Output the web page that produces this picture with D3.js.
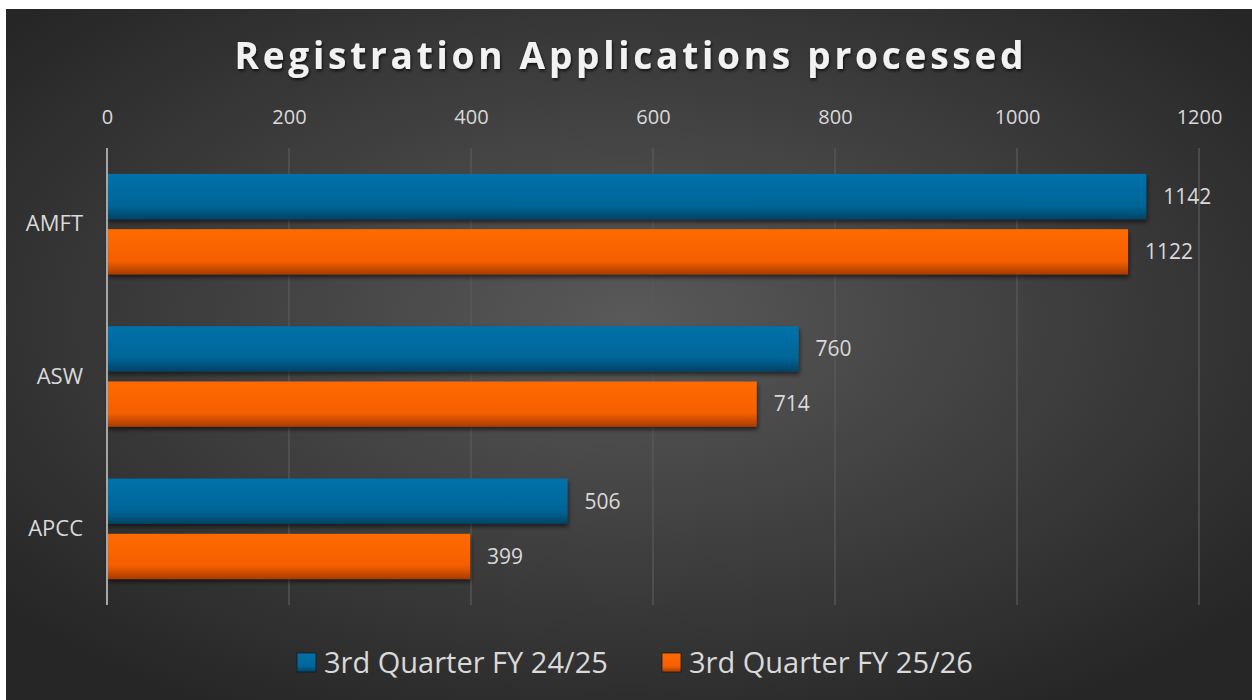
<!DOCTYPE html>
<html>
<head>
<meta charset="utf-8">
<script src="https://cdn.jsdelivr.net/npm/d3@7"></script>
<style>
  html, body { margin: 0; padding: 0; background: #fff; }
  svg { display: block; }
</style>
</head>
<body>
<svg width="1252" height="700"></svg>
<script>
// chart data
const categories = ['AMFT', 'ASW', 'APCC'];
const seriesNames = ['3rd Quarter FY 24/25', '3rd Quarter FY 25/26'];
const fy2425 = [1142, 760, 506];
const fy2526 = [1122, 714, 399];
const xTicks = [0, 200, 400, 600, 800, 1000, 1200];

const svg = d3.select('svg'),
  width = 1252,
  height = 700;

const font = '"Open Sans", Roboto, sans-serif';
const textColor = '#d9d9d9';

const defs = svg.append('defs');

// background radial gradient
const bg = defs.append('radialGradient').attr('id', 'bg')
  .attr('cx', '50%').attr('cy', '45%').attr('r', '65%');
bg.append('stop').attr('offset', '0%').attr('stop-color', '#595959');
bg.append('stop').attr('offset', '100%').attr('stop-color', '#262626');

// bar gradients (bevel-ish look)
function barGrad(id, top, mid, bot) {
  const g = defs.append('linearGradient').attr('id', id)
    .attr('x1', 0).attr('y1', 0).attr('x2', 0).attr('y2', 1);
  g.append('stop').attr('offset', '0%').attr('stop-color', top);
  g.append('stop').attr('offset', '70%').attr('stop-color', mid);
  g.append('stop').attr('offset', '100%').attr('stop-color', bot);
}
barGrad('gBlue', '#0072aa', '#006598', '#004466');
barGrad('gOrange', '#ff6a00', '#f55f00', '#a83c00');

const shadow = defs.append('filter').attr('id', 'shadow')
  .attr('x', '-5%').attr('y', '-20%').attr('width', '110%').attr('height', '160%');
shadow.append('feDropShadow').attr('dx', 1).attr('dy', 3).attr('stdDeviation', 2)
  .attr('flood-color', '#000').attr('flood-opacity', 0.55);

const tshadow = defs.append('filter').attr('id', 'tshadow');
tshadow.append('feDropShadow').attr('dx', 1).attr('dy', 2).attr('stdDeviation', 1.5)
  .attr('flood-color', '#000').attr('flood-opacity', 0.7);

svg.append('rect').attr('x', 6).attr('y', 9)
  .attr('width', width - 6).attr('height', height - 9)
  .attr('fill', 'url(#bg)');

// title - spread letters to span the same width as the original
const titleText = 'Registration Applications processed';
const title = svg.append('text')
  .attr('x', 629).attr('y', 69)
  .attr('text-anchor', 'middle')
  .attr('font-family', font)
  .attr('font-weight', 'bold')
  .attr('font-size', 37)
  .attr('fill', '#f2f2f2')
  .attr('filter', 'url(#tshadow)')
  .text(titleText);
const baseW = title.node().getComputedTextLength();
const spacing = Math.max(0, (789 - baseW) / (titleText.length - 1));
title.attr('letter-spacing', spacing).attr('x', 629 + spacing / 2);

const plot = { left: 107, right: 1199, top: 148, bottom: 605 };

const x = d3.scaleLinear().domain([0, 1200]).range([plot.left, plot.right]);
const y = d3.scaleBand().domain(categories).range([plot.top, plot.bottom]).paddingInner(0.34).paddingOuter(0.17);
const ySub = d3.scaleBand().domain([0, 1]).range([0, y.bandwidth()]).paddingInner(0.18);

// gridlines
svg.append('g').selectAll('line')
  .data(xTicks.slice(1))
  .join('line')
  .attr('x1', d => x(d)).attr('x2', d => x(d))
  .attr('y1', plot.top).attr('y2', plot.bottom)
  .attr('stroke', '#595959').attr('stroke-width', 1.3);

// top axis labels
const xAxis = svg.append('g')
  .attr('transform', `translate(0,${plot.top})`)
  .call(d3.axisTop(x).tickValues(xTicks).tickSize(0).tickPadding(24).tickFormat(d3.format('d')));
xAxis.select('.domain').remove();
xAxis.selectAll('text')
  .attr('font-family', font)
  .attr('font-size', 20)
  .attr('fill', textColor);

// bars
const series = [fy2425, fy2526];
const fills = ['url(#gBlue)', 'url(#gOrange)'];
const rows = [];
categories.forEach((c, i) => series.forEach((s, j) => rows.push({ c, j, v: s[i] })));

svg.append('g').selectAll('rect')
  .data(rows)
  .join('rect')
  .attr('x', x(0))
  .attr('y', d => y(d.c) + ySub(d.j))
  .attr('width', d => x(d.v) - x(0))
  .attr('height', ySub.bandwidth())
  .attr('fill', d => fills[d.j])
  .attr('filter', 'url(#shadow)');

// value labels
svg.append('g').selectAll('text')
  .data(rows)
  .join('text')
  .attr('x', d => x(d.v) + 17)
  .attr('y', d => y(d.c) + ySub(d.j) + ySub.bandwidth() / 2)
  .attr('dy', '0.35em')
  .attr('font-family', font)
  .attr('font-size', 21)
  .attr('fill', textColor)
  .text(d => d.v);

// vertical axis line
svg.append('line')
  .attr('x1', plot.left).attr('x2', plot.left)
  .attr('y1', plot.top).attr('y2', plot.bottom)
  .attr('stroke', '#a6a6a6').attr('stroke-width', 2);

// category labels
const yAxis = svg.append('g')
  .attr('transform', `translate(${plot.left},0)`)
  .call(d3.axisLeft(y).tickSize(0).tickPadding(24));
yAxis.select('.domain').remove();
yAxis.selectAll('text')
  .attr('font-family', font)
  .attr('font-size', 22)
  .attr('fill', textColor);

// legend
const legendItems = [
  { name: seriesNames[0], fill: fills[0], x: 297 },
  { name: seriesNames[1], fill: fills[1], x: 662 }
];
const lg = svg.append('g').selectAll('g')
  .data(legendItems)
  .join('g')
  .attr('transform', d => `translate(${d.x},653)`);
lg.append('rect')
  .attr('width', 19).attr('height', 19)
  .attr('fill', d => d.fill)
  .attr('stroke', '#1a1a1a').attr('stroke-width', 0.8);
const lgText = lg.append('text')
  .attr('x', 27).attr('y', 9.5).attr('dy', '0.36em')
  .attr('font-family', font)
  .attr('font-size', 28)
  .attr('fill', textColor)
  .text(d => d.name);
// fit legend text to the width seen in the original (~284px)
const lw = lgText.node().getComputedTextLength();
lgText.attr('font-size', Math.min(30, 28 * 284 / lw));
</script>
</body>
</html>
